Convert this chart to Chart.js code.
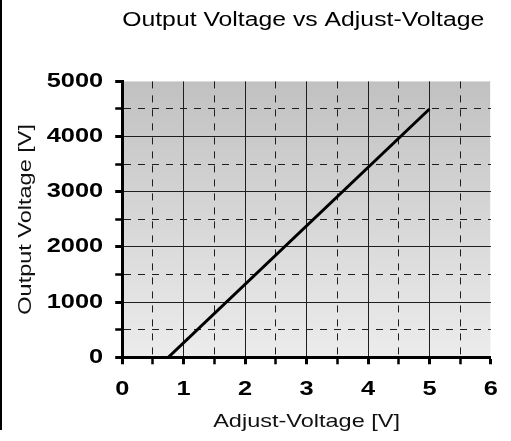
<!DOCTYPE html>
<html>
<head>
<meta charset="utf-8">
<script src="https://cdn.jsdelivr.net/npm/chart.js@4.4.0/dist/chart.umd.min.js"></script>
<style>
  html, body { margin: 0; padding: 0; background: #fff; }
  #wrap { position: relative; width: 511px; height: 441px; }
  #edge { position: absolute; left: 0; top: 0; width: 2px; height: 430px; background: #000; }
</style>
</head>
<body>
<div id="wrap">
  <canvas id="c" width="511" height="441"></canvas>
  <div id="edge"></div>
</div>
<script>
// ---- data ----
const adjustVoltage = [0.75, 5];        // V
const outputVoltage = [0, 4500];        // V
const xTickLabels = ['0', '1', '2', '3', '4', '5', '6'];
const yTickLabels = ['0', '1000', '2000', '3000', '4000', '5000'];
const chartTitle = 'Output Voltage vs Adjust-Voltage';
const xTitle = 'Adjust-Voltage [V]';
const yTitle = 'Output Voltage [V]';

// ---- wide text rendering (reference glyphs are wide) ----
const STRETCH = 1.27;
const canvas = document.getElementById('c');
const ctx = canvas.getContext('2d');
(function patch(c) {
  const fill = c.fillText;
  const measure = c.measureText;
  c.fillText = function (t, x, y) {
    this.save();
    this.translate(x, y);
    this.scale(STRETCH, 1);
    fill.call(this, t, 0, 0);
    this.restore();
  };
  c.measureText = function (t) {
    const m = measure.call(this, t);
    return {
      width: m.width * STRETCH,
      actualBoundingBoxAscent: m.actualBoundingBoxAscent,
      actualBoundingBoxDescent: m.actualBoundingBoxDescent,
      actualBoundingBoxLeft: m.actualBoundingBoxLeft * STRETCH,
      actualBoundingBoxRight: m.actualBoundingBoxRight * STRETCH
    };
  };
})(ctx);

const points = adjustVoltage.map((x, i) => ({ x: x, y: outputVoltage[i] }));

const bgPlugin = {
  id: 'plotBg',
  beforeDraw(chart) {
    const { ctx: g, chartArea: a } = chart;
    const grad = g.createLinearGradient(0, a.top, 0, a.bottom);
    grad.addColorStop(0, '#c1c1c1');
    grad.addColorStop(1, '#ececec');
    g.save();
    g.fillStyle = grad;
    g.fillRect(a.left, a.top, a.right - a.left, a.bottom - a.top);
    g.restore();
  }
};

const FONT = "'Liberation Sans', Arial, Helvetica, sans-serif";

function xMajor(v) { return Math.abs(v - Math.round(v)) < 1e-9; }
function yMajor(v) { return v % 1000 === 0; }

new Chart(ctx, {
  type: 'scatter',
  data: {
    datasets: [{
      data: points,
      showLine: true,
      borderColor: '#000',
      borderWidth: 3,
      pointRadius: 0,
      pointHoverRadius: 0,
      fill: false,
      tension: 0
    }]
  },
  options: {
    responsive: false,
    animation: false,
    events: [],
    layout: { padding: { left: 0, right: 18, top: 0, bottom: 0 } },
    plugins: {
      legend: { display: false },
      tooltip: { enabled: false },
      title: {
        display: true,
        text: chartTitle,
        fullSize: false,
        align: 'start',
        color: '#000',
        font: { family: FONT, size: 19.5, weight: 'normal' },
        padding: { top: 9, bottom: 49 }
      }
    },
    scales: {
      x: {
        type: 'linear',
        min: 0,
        max: 6,
        ticks: {
          stepSize: 0.5,
          autoSkip: false,
          maxRotation: 0,
          padding: 13,
          color: '#000',
          font: { family: FONT, size: 20, weight: 'bold' },
          callback: (v) => xMajor(v) ? xTickLabels[Math.round(v)] : ''
        },
        grid: {
          color: (c) => {
            const v = c.tick ? c.tick.value : 0;
            if (v >= 6) return '#f6f6f6';
            return '#1e1e1e';
          },
          lineWidth: 1,
          tickLength: 7,
          tickColor: '#000',
          tickWidth: (c) => (c.tick && xMajor(c.tick.value)) ? 3 : 2.5
        },
        border: {
          display: true,
          color: '#000',
          width: 3,
          dash: (c) => (c.tick && !xMajor(c.tick.value)) ? [7, 7] : []
        },
        title: {
          display: true,
          text: xTitle,
          color: '#111',
          font: { family: FONT, size: 18.5, weight: 'normal' },
          padding: { top: -3, bottom: 7.5 }
        }
      },
      y: {
        type: 'linear',
        min: 0,
        max: 5000,
        ticks: {
          stepSize: 500,
          autoSkip: false,
          padding: 12,
          color: '#000',
          font: { family: FONT, size: 20, weight: 'bold' },
          callback: (v) => yMajor(v) ? yTickLabels[v / 1000] : ''
        },
        grid: {
          color: (c) => {
            const v = c.tick ? c.tick.value : 0;
            if (v >= 5000) return 'rgba(0,0,0,0)';
            return '#1e1e1e';
          },
          lineWidth: 1,
          tickLength: 7,
          tickColor: '#000',
          tickWidth: (c) => (c.tick && yMajor(c.tick.value)) ? 3 : 2.5
        },
        border: {
          display: true,
          color: '#000',
          width: 3,
          dash: (c) => (c.tick && !yMajor(c.tick.value)) ? [7, 7] : []
        },
        title: {
          display: true,
          text: yTitle,
          color: '#111',
          font: { family: FONT, size: 18.5, weight: 'normal' },
          padding: { top: 15, bottom: -2.5 }
        }
      }
    }
  },
  plugins: [bgPlugin]
});
</script>
</body>
</html>
